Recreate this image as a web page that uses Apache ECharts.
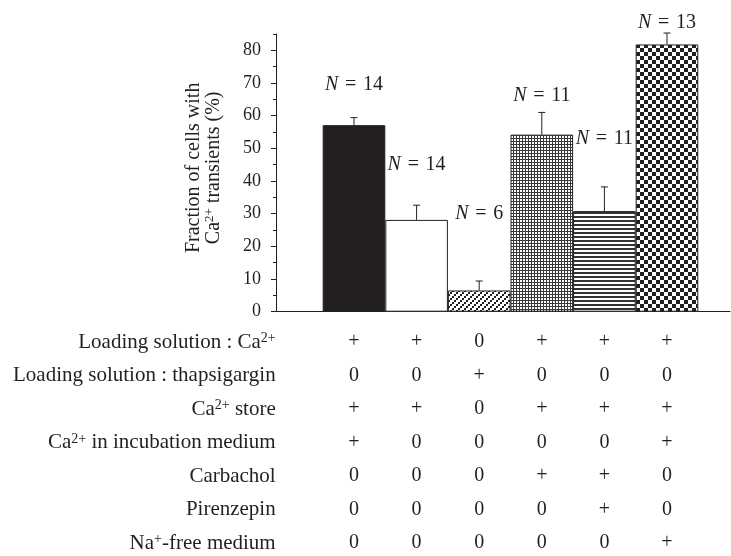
<!DOCTYPE html>
<html>
<head>
<meta charset="utf-8">
<script src="https://cdn.jsdelivr.net/npm/echarts@6/dist/echarts.min.js"></script>
<style>
html, body { margin: 0; padding: 0; background: #ffffff; }
#chart { width: 731px; height: 556px; }
</style>
</head>
<body>
<div id="chart"></div>
<script>
// ---- data ----
const categories = ['Control', 'Ca-free incubation', 'Thapsigargin loading', 'Carbachol', 'Carbachol + pirenzepin', 'Na-free medium'];
const fractions = [57.1, 28.1, 6.5, 54.2, 30.8, 81.8];      // % of cells with Ca2+ transients
const errors = [2.3, 4.5, 2.9, 6.8, 7.4, 3.5];              // upper error bar size
const cellCounts = [14, 14, 6, 11, 11, 13];                 // N per bar
const countLabelLevels = [69.5, 45, 30, 66, 53, 88.5];      // height (in %) where each N label sits
const majorTickValues = [0, 10, 20, 30, 40, 50, 60, 70, 80];
const minorTickValues = [5, 15, 25, 35, 45, 55, 65, 75, 85];

const rowLabels = [
  'Loading solution : Ca{sup|2+}',
  'Loading solution : thapsigargin',
  'Ca{sup|2+} store',
  'Ca{sup|2+} in incubation medium',
  'Carbachol',
  'Pirenzepin',
  'Na{sup|+}-free medium'
];
const loadingCa      = ['+', '+', '0', '+', '+', '+'];
const loadingThaps   = ['0', '0', '+', '0', '0', '0'];
const caStore        = ['+', '+', '0', '+', '+', '+'];
const caIncubation   = ['+', '0', '0', '0', '0', '+'];
const carbachol      = ['0', '0', '0', '+', '+', '0'];
const pirenzepin     = ['0', '0', '0', '0', '+', '0'];
const naFree         = ['0', '0', '0', '0', '0', '+'];
const tableRows = [loadingCa, loadingThaps, caStore, caIncubation, carbachol, pirenzepin, naFree];

// ---- styling helpers ----
const INK = '#231f20';
const FONT = 'Liberation Serif';

function pattern(w, h, draw) {
  const c = document.createElement('canvas');
  c.width = w; c.height = h;
  const g = c.getContext('2d');
  g.fillStyle = '#ffffff';
  g.fillRect(0, 0, w, h);
  draw(g);
  return { image: c, repeat: 'repeat' };
}
const fills = [
  INK,
  '#ffffff',
  pattern(6, 6, g => { g.fillStyle = INK; g.fillRect(4, 0, 2, 2); g.fillRect(2, 2, 2, 2); g.fillRect(0, 4, 2, 2); }),
  pattern(3, 3, g => { g.fillStyle = '#3a3a3a'; g.fillRect(0, 0, 3, 1); g.fillRect(0, 0, 1, 3); }),
  pattern(4, 4, g => { g.fillStyle = '#333333'; g.fillRect(0, 0, 4, 2); }),
  pattern(8, 8, g => { g.fillStyle = INK; g.fillRect(0, 0, 4, 4); g.fillRect(4, 4, 4, 4); })
];

const tableData = [];
tableRows.forEach((row, r) => row.forEach((v, c) => tableData.push([c, r, v])));

const chart = echarts.init(document.getElementById('chart'), null, { renderer: 'canvas' });

const option = {
  animation: false,
  backgroundColor: '#ffffff',
  textStyle: { fontFamily: FONT, color: INK },
  grid: [
    { left: 276, right: 1, top: 34, bottom: 244.3 },
    { left: 322.7, right: 32.7, top: 34, bottom: 244.3 },
    { left: 322.7, right: 32.7, top: 342, bottom: 13 }
  ],
  xAxis: [
    { gridIndex: 0, type: 'value', min: 0, max: 1,
      axisLine: { show: true, lineStyle: { color: INK, width: 1 } },
      axisTick: { show: false }, axisLabel: { show: false }, splitLine: { show: false } },
    { gridIndex: 1, type: 'category', data: categories, show: false },
    { gridIndex: 2, type: 'category', data: categories, show: false }
  ],
  yAxis: [
    { gridIndex: 0, type: 'value', min: 0, max: 85, position: 'left',
      axisLine: { show: true, lineStyle: { color: INK, width: 1 } },
      axisTick: { show: true, length: 5, customValues: majorTickValues, lineStyle: { color: INK, width: 1 } },
      axisLabel: { customValues: majorTickValues, margin: 15, fontFamily: FONT, fontSize: 18, color: INK },
      splitLine: { show: false },
      name: 'Fraction of cells with\nCa{sup|2+} transients (%)',
      nameLocation: 'middle', nameRotate: 90, nameGap: 53,
      nameTextStyle: {
        fontFamily: FONT, fontSize: 20, lineHeight: 19.5, color: INK, padding: [0, 0, 0, 10],
        rich: { sup: { fontFamily: FONT, fontSize: 13, color: INK, verticalAlign: 'top', lineHeight: 12 } }
      } },
    { gridIndex: 0, type: 'value', min: 0, max: 85, position: 'left', offset: 0,
      axisLine: { show: false },
      axisTick: { show: true, length: 3, customValues: minorTickValues, lineStyle: { color: INK, width: 1 } },
      axisLabel: { show: false }, splitLine: { show: false } },
    { gridIndex: 1, type: 'value', min: 0, max: 85, show: false },
    { gridIndex: 2, type: 'category', data: rowLabels, inverse: true, boundaryGap: false,
      axisLine: { show: false }, axisTick: { show: false }, splitLine: { show: false },
      axisLabel: {
        margin: 47, fontFamily: FONT, fontSize: 21, color: INK,
        rich: { sup: { fontFamily: FONT, fontSize: 14, color: INK, verticalAlign: 'top', lineHeight: 12 } }
      } }
  ],
  series: [
    { type: 'bar', xAxisIndex: 1, yAxisIndex: 2, barWidth: '100%', z: 2,
      itemStyle: { borderColor: INK, borderWidth: 1 },
      data: fractions.map((v, i) => ({ value: v, itemStyle: { color: fills[i] } })) },
    { type: 'custom', xAxisIndex: 1, yAxisIndex: 2, z: 3,
      data: fractions.map((v, i) => [i, v, v + errors[i]]),
      renderItem: (params, api) => {
        const base = api.coord([api.value(0), api.value(1)]);
        const top = api.coord([api.value(0), api.value(2)]);
        const st = { stroke: INK, lineWidth: 1 };
        return { type: 'group', children: [
          { type: 'line', shape: { x1: base[0], y1: base[1], x2: top[0], y2: top[1] }, style: st },
          { type: 'line', shape: { x1: top[0] - 3.5, y1: top[1], x2: top[0] + 3.5, y2: top[1] }, style: st }
        ] };
      } },
    { type: 'custom', xAxisIndex: 1, yAxisIndex: 2, z: 4,
      data: cellCounts.map((n, i) => [i, countLabelLevels[i], n]),
      renderItem: (params, api) => {
        const p = api.coord([api.value(0), api.value(1)]);
        return { type: 'text', style: {
          text: '{i|N}{t|\u2004=\u2004' + api.value(2) + '}',
          x: p[0], y: p[1], align: 'center', verticalAlign: 'middle',
          fontFamily: FONT, fontSize: 20, fill: INK,
          rich: {
            i: { fontFamily: FONT, fontSize: 20, fontStyle: 'italic', fill: INK },
            t: { fontFamily: FONT, fontSize: 20, fill: INK }
          }
        } };
      } },
    { type: 'custom', xAxisIndex: 2, yAxisIndex: 3, z: 4,
      data: tableData,
      renderItem: (params, api) => {
        const p = api.coord([api.value(0), api.value(1)]);
        return { type: 'text', style: {
          text: String(tableData[params.dataIndex][2]),
          x: p[0], y: p[1], align: 'center', verticalAlign: 'middle',
          fontFamily: FONT, fontSize: 20, fill: INK
        } };
      } }
  ]
};
chart.setOption(option);
</script>
</body>
</html>
